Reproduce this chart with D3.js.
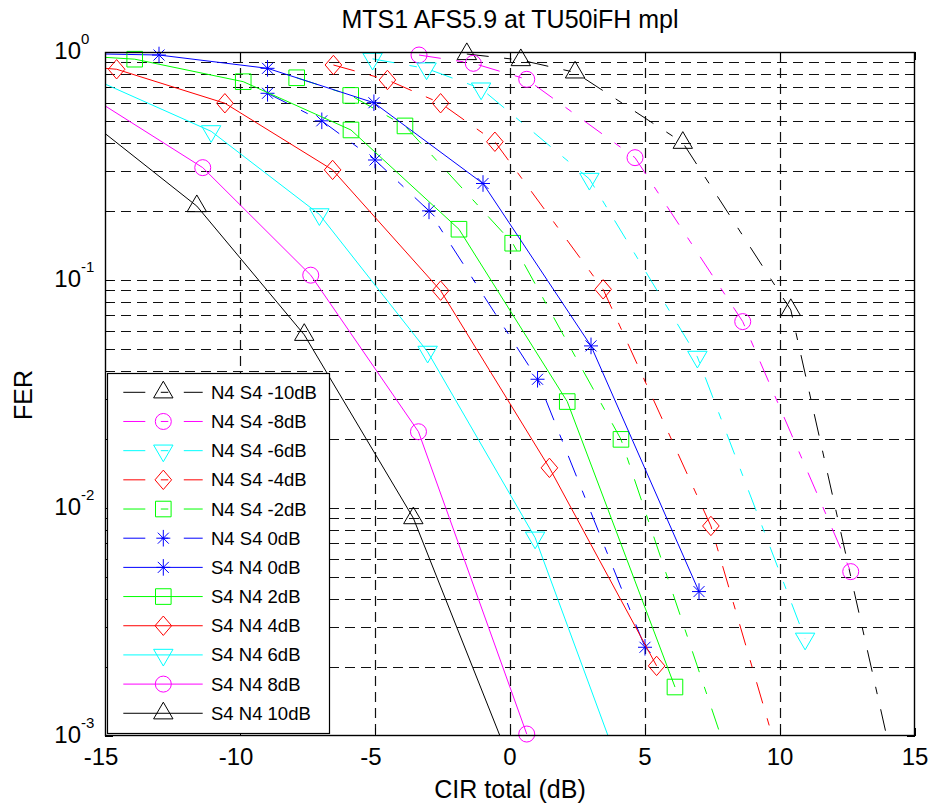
<!DOCTYPE html>
<html><head><meta charset="utf-8">
<script src="https://cdn.jsdelivr.net/npm/d3@7"></script>
<style>
body{margin:0;background:#fff;}
svg{display:block;font-family:"Liberation Sans",Arial,Helvetica,sans-serif;}
</style>
</head><body>
<svg id="chart" width="933" height="810"></svg>
<script>
// ---------------- data ----------------
const chartTitle = "MTS1 AFS5.9 at TU50iFH mpl";
const xLabel = "CIR total (dB)";
const yLabel = "FER";
const xTickValues = [-15, -10, -5, 0, 5, 10, 15];
const yDecadeValues = [1e-3, 1e-2, 1e-1, 1];
const yDecadeExponents = ["-3", "-2", "-1", "0"];

const seriesLabels = ["N4 S4 -10dB","N4 S4 -8dB","N4 S4 -6dB","N4 S4 -4dB","N4 S4 -2dB","N4 S4 0dB",
                      "S4 N4 0dB","S4 N4 2dB","S4 N4 4dB","S4 N4 6dB","S4 N4 8dB","S4 N4 10dB"];

// N4 S4 (dash-dot curves)
const cirN4S4m10 = [-1.6, 0.4, 2.41, 6.4, 10.4, 14.4];
const ferN4S4m10 = [0.98, 0.922, 0.814, 0.40, 0.0739, 0.00058];
const cirN4S4m8  = [-3.37, -1.36, 0.62, 4.63, 8.62, 12.62];
const ferN4S4m8  = [0.97, 0.892, 0.759, 0.344, 0.0657, 0.00526];
const cirN4S4m6  = [-5.09, -3.09, -1.07, 2.94, 6.94, 10.93];
const ferN4S4m6  = [0.933, 0.846, 0.691, 0.2775, 0.046, 0.00267];
const cirN4S4m4  = [-6.54, -4.54, -2.57, -0.56, 3.45, 7.44, 11.44];
const ferN4S4m4  = [0.877, 0.754, 0.596, 0.404, 0.091, 0.00834, 0.0002];
const cirN4S4m2  = [-7.9, -5.9, -3.89, 0.1, 4.11, 8.1];
const ferN4S4m2  = [0.771, 0.645, 0.474, 0.145, 0.02, 0.00079];
const cirN4S4p0  = [-8.98, -6.97, -5.0, -3.0, 1.02, 5.0];
const ferN4S4p0  = [0.659, 0.499, 0.336, 0.201, 0.0367, 0.00245];

// S4 N4 (solid curves)
const cirS4N4p0  = [-17, -13, -8.98, -5.04, -1.0, 3.0, 7.0];
const ferS4N4p0  = [0.99, 0.97, 0.848, 0.599, 0.265, 0.0514, 0.0043];
const cirS4N4p2  = [-17.9, -13.9, -9.88, -5.89, -1.89, 2.12, 6.11];
const ferS4N4p2  = [0.995, 0.93, 0.741, 0.455, 0.167, 0.0293, 0.00164];
const cirS4N4p4  = [-18.57, -14.57, -10.56, -6.57, -2.57, 1.46, 5.43];
const ferS4N4p4  = [0.92, 0.84, 0.596, 0.304, 0.0898, 0.015, 0.00203];
const cirS4N4p6  = [-15.07, -11.07, -7.06, -3.05, 0.93, 4.94];
const ferS4N4p6  = [0.73, 0.449, 0.194, 0.0484, 0.00741, 0.00038];
const cirS4N4p8  = [-15.38, -11.38, -7.38, -3.39, 0.62];
const ferS4N4p8  = [0.62, 0.311, 0.105, 0.0216, 0.00102];
const cirS4N4p10 = [-15.6, -11.6, -7.62, -3.58, 0.4];
const ferS4N4p10 = [0.50, 0.211, 0.0575, 0.00903, 0.00059];

const seriesCir = [cirN4S4m10, cirN4S4m8, cirN4S4m6, cirN4S4m4, cirN4S4m2, cirN4S4p0,
                   cirS4N4p0, cirS4N4p2, cirS4N4p4, cirS4N4p6, cirS4N4p8, cirS4N4p10];
const seriesFer = [ferN4S4m10, ferN4S4m8, ferN4S4m6, ferN4S4m4, ferN4S4m2, ferN4S4p0,
                   ferS4N4p0, ferS4N4p2, ferS4N4p4, ferS4N4p6, ferS4N4p8, ferS4N4p10];

// ---------------- styles ----------------
const seriesColors = ["#000000","#ff00ff","#00ffff","#ff0000","#00ff00","#0000ff",
                      "#0000ff","#00ff00","#ff0000","#00ffff","#ff00ff","#000000"];
const seriesMarkers = ["tri-up","circle","tri-down","diamond","square","asterisk",
                       "asterisk","square","diamond","tri-down","circle","tri-up"];
const seriesDashed = [true,true,true,true,true,true,false,false,false,false,false,false];
const dashDot = "22,15.5,7.5,15.5";

// ---------------- layout ----------------
const L = 105, R = 915, T = 52, B = 736;
const svg = d3.select("#chart");
svg.append("rect").attr("width",933).attr("height",810).attr("fill","#fff");

const x = d3.scaleLinear().domain([-15, 15]).range([L, R]);
const y = d3.scaleLog().domain([1e-3, 1]).range([B, T]);

// grid
const minorVals = [];
[1e-3, 1e-2, 1e-1].forEach(d => { for (let m = 2; m <= 9; m++) minorVals.push(d * m); });
const allY = yDecadeValues.slice(1, 3).concat(minorVals);
const grid = svg.append("g").attr("stroke","#111").attr("stroke-width",1.2)
  .attr("stroke-dasharray","10,6").attr("fill","none");
allY.forEach(v => {
  const yy = Math.round(y(v)) + 0.5;
  grid.append("line").attr("x1",L).attr("x2",R).attr("y1",yy).attr("y2",yy);
});
xTickValues.slice(1, -1).forEach(v => {
  const xx = Math.round(x(v)) + 0.5;
  grid.append("line").attr("x1",xx).attr("x2",xx).attr("y1",T).attr("y2",B);
});

svg.append("defs").append("clipPath").attr("id","plotclip")
  .append("rect").attr("x",L).attr("y",T).attr("width",R-L).attr("height",B-T);

function markerPath(type) {
  switch (type) {
    case "tri-up":   return "M0,-11.1L9.7,5.6L-9.7,5.6Z";
    case "tri-down": return "M0,11.1L9.7,-5.6L-9.7,-5.6Z";
    case "circle":   return "M8,0A8,8 0 1,1 -8,0A8,8 0 1,1 8,0Z";
    case "square":   return "M-7.8,-7.8H7.8V7.8H-7.8Z";
    case "diamond":  return "M0,-9.7L8.3,0L0,9.7L-8.3,0Z";
    case "asterisk": return "M0,-8.3V8.3M-7,0H7M-5.5,-5.5L5.5,5.5M-5.5,5.5L5.5,-5.5";
  }
}

const line = d3.line().x(d => x(d[0])).y(d => y(d[1]));
const plot = svg.append("g");
seriesLabels.forEach((lab, i) => {
  const pts = seriesCir[i].map((c, k) => [c, seriesFer[i][k]]);
  plot.append("path").attr("d", line(pts)).attr("fill","none")
    .attr("stroke", seriesColors[i]).attr("stroke-width", 1)
    .attr("stroke-dasharray", seriesDashed[i] ? dashDot : null)
    .attr("clip-path","url(#plotclip)");
  pts.filter(p => p[0] >= -15 && p[0] <= 15 && p[1] >= 1e-3 && p[1] <= 1).forEach(p => {
    plot.append("path").attr("d", markerPath(seriesMarkers[i]))
      .attr("transform", `translate(${x(p[0])},${y(p[1])})`)
      .attr("fill","none").attr("stroke", seriesColors[i]).attr("stroke-width", 1);
  });
});

// axes box and ticks
const ax = svg.append("g").attr("stroke","#000").attr("stroke-width",1).attr("fill","none");
ax.append("rect").attr("x",L+0.5).attr("y",T+0.5).attr("width",R-L-1).attr("height",B-T-1)
  .attr("stroke-width",1.4);
xTickValues.forEach(v => {
  const xx = Math.round(x(v)) + 0.5;
  ax.append("line").attr("x1",xx).attr("x2",xx).attr("y1",B).attr("y2",B-8);
  ax.append("line").attr("x1",xx).attr("x2",xx).attr("y1",T).attr("y2",T+8);
});
yDecadeValues.concat(minorVals).forEach(v => {
  const yy = Math.round(y(v)) + 0.5;
  const len = yDecadeValues.includes(v) ? 8 : 5;
  ax.append("line").attr("x1",L).attr("x2",L+len).attr("y1",yy).attr("y2",yy);
  ax.append("line").attr("x1",R).attr("x2",R-len).attr("y1",yy).attr("y2",yy);
});

// tick labels
const txt = svg.append("g").attr("fill","#000");
xTickValues.forEach(v => {
  txt.append("text").attr("x", x(v) + (v < 0 ? -4 : 0)).attr("y", 765)
    .attr("text-anchor","middle").attr("font-size",24).text(String(v));
});
yDecadeValues.forEach((v, i) => {
  const t = txt.append("text").attr("x", 54.3).attr("y", y(v) + 6.7).attr("font-size",24);
  t.append("tspan").text("10");
  t.append("tspan").attr("font-size",15).attr("dy",-15).text(yDecadeExponents[i]);
});

// titles
txt.append("text").attr("x",510).attr("y",28).attr("text-anchor","middle")
  .attr("font-size",25).text(chartTitle);
txt.append("text").attr("x",510).attr("y",798).attr("text-anchor","middle")
  .attr("font-size",25).text(xLabel);
txt.append("text").attr("transform","translate(31.7,395) rotate(-90)")
  .attr("text-anchor","middle").attr("font-size",25).text(yLabel);

// legend
const lg = svg.append("g");
lg.append("rect").attr("x",107.5).attr("y",373.5).attr("width",222).attr("height",360)
  .attr("fill","#fff").attr("stroke","#000").attr("stroke-width",1.2);
seriesLabels.forEach((lab, i) => {
  const cy = 392.3 + i * 29.18;
  lg.append("line").attr("x1",123.3).attr("x2",202.7).attr("y1",cy).attr("y2",cy)
    .attr("stroke", seriesColors[i]).attr("stroke-width",1)
    .attr("stroke-dasharray", seriesDashed[i] ? dashDot : null);
  lg.append("path").attr("d", markerPath(seriesMarkers[i]))
    .attr("transform", `translate(163.3,${cy})`)
    .attr("fill","none").attr("stroke", seriesColors[i]).attr("stroke-width",1);
  lg.append("text").attr("x",211).attr("y",cy + 6.5).attr("font-size",18.5)
    .attr("fill","#000").text(lab);
});
</script>
</body></html>
